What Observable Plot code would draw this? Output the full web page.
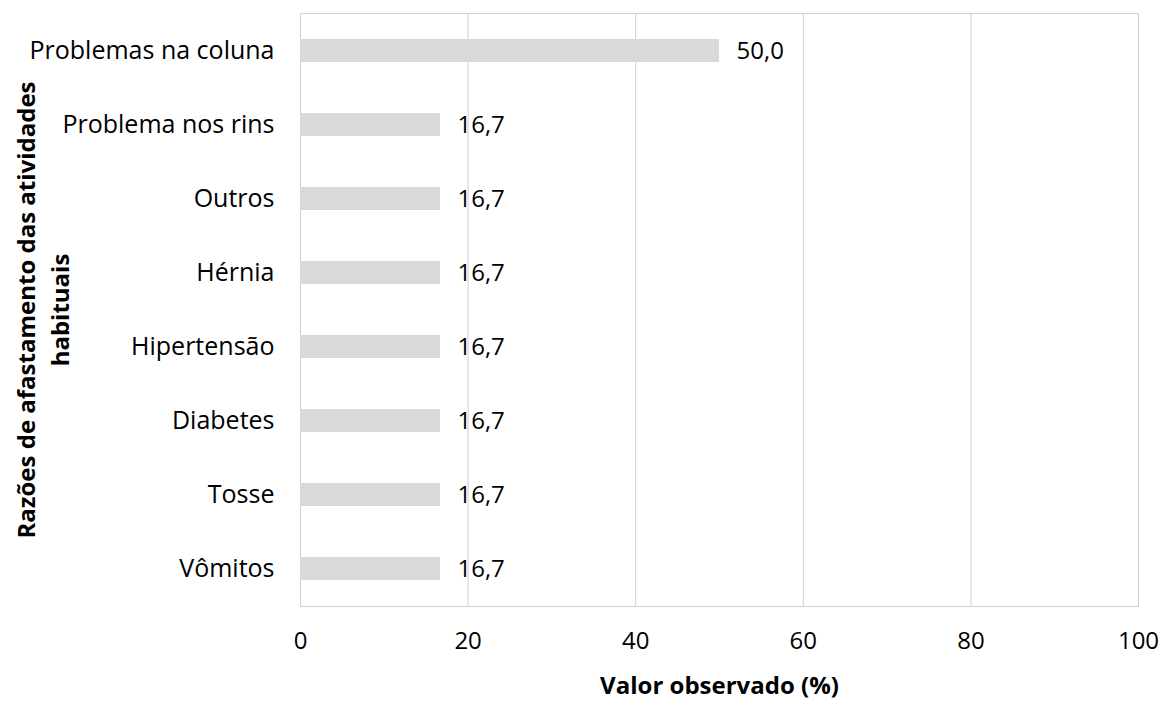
<!DOCTYPE html>
<html><head><meta charset="utf-8">
<script src="https://cdn.jsdelivr.net/npm/d3@7"></script>
<script src="https://cdn.jsdelivr.net/npm/@observablehq/plot@0.6"></script>
<style>
body{margin:0;background:#fff;}
svg{font-family:"Open Sans",sans-serif;}
</style></head><body>
<div id="chart"></div>
<script>
const categories = ["Problemas na coluna","Problema nos rins","Outros","Hérnia","Hipertensão","Diabetes","Tosse","Vômitos"];
const values = [50.0,16.7,16.7,16.7,16.7,16.7,16.7,16.7];
const xTicks = [0,20,40,60,80,100];
const yTitle = "Razões de afastamento das atividades\nhabituais";
const xTitle = "Valor observado (%)";

const data = categories.map((c,i)=>({cat:c, v:values[i]}));
const fmt = v => v.toFixed(1).replace(".", ",");
const FS = 24;

const chart = Plot.plot({
  width:1164, height:703,
  marginLeft:300, marginRight:26, marginTop:13, marginBottom:97,
  style:{fontSize:FS+"px", fontFamily:"'Open Sans',sans-serif", color:"#000", background:"#fff"},
  x:{domain:[0,100], ticks:xTicks, label:null},
  y:{domain:categories, paddingInner:0.69, paddingOuter:0.345, label:null},
  marks:[
    Plot.gridX(xTicks, {stroke:"#d0d0d0", strokeOpacity:1, strokeWidth:1}),
    Plot.frame({stroke:"#d0d0d0", strokeWidth:1}),
    Plot.barX(data, {x:"v", y:"cat", fill:"#d9d9d9"}),
    Plot.text(data, {x:"v", y:"cat", text:d=>fmt(d.v), textAnchor:"start", dx:17, fill:"#000", fontSize:FS}),
    Plot.text([yTitle], {frameAnchor:"left", dx:-259, rotate:-90, textAnchor:"middle", lineAnchor:"middle", fontWeight:"bold", fontSize:FS, fill:"#000", lineHeight:1.4}),
    Plot.text([xTitle], {frameAnchor:"bottom", dy:87, textAnchor:"middle", fontWeight:"bold", fontSize:FS, fill:"#000"}),
    Plot.axisX({ticks:xTicks, tickSize:0, tickPadding:25, label:null, fontSize:FS}),
    Plot.axisY({tickSize:0, tickPadding:26, label:null, fontSize:25})
  ]
});
document.getElementById("chart").appendChild(chart);
</script></body></html>
